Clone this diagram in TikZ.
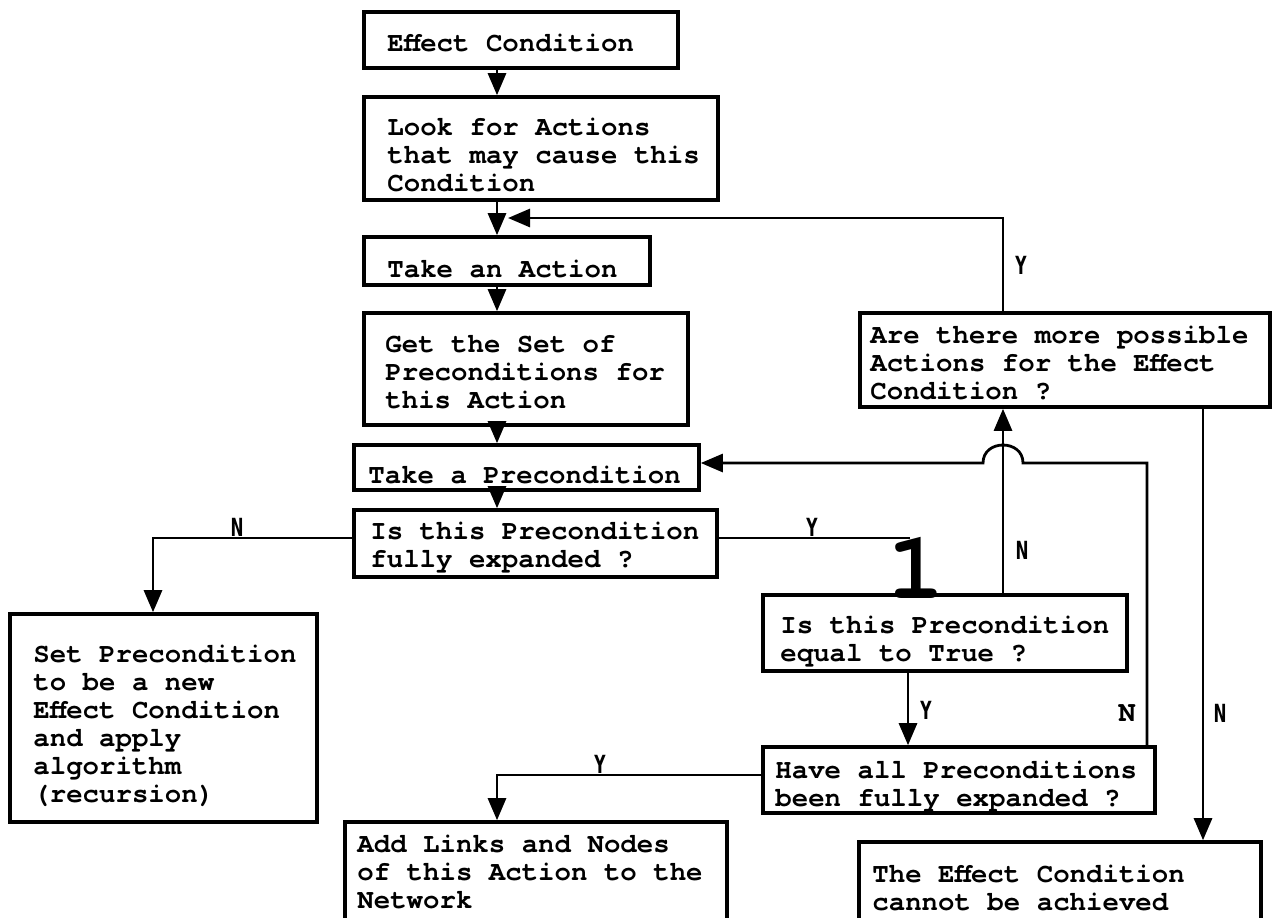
\documentclass[tikz,border=0pt]{standalone}
\usepackage{fontspec}
\usepackage{graphicx}
\usetikzlibrary{arrows.meta,fit}
\newfontfamily\flowfont{texgyrecursor}[Extension=.otf,UprightFont=*-bold]
\newfontfamily\tagfont{DejaVu Sans}[UprightFont={* Bold}]
\newcommand\tagtext[1]{\scalebox{0.62}[1]{#1}}
\newcommand\boxlines[1]{\parbox[t]{330pt}{\raggedright #1}}
\tikzset{
  x=0.5pt, y=-0.5pt,
  box/.style={draw, line width=1.8pt, inner sep=0pt},
  txt/.style={anchor=base west, inner sep=0pt,
    font=\flowfont\fontsize{13.7pt}{14pt}\selectfont},
  tag/.style={inner sep=0pt, font=\tagfont\fontsize{12.5pt}{13pt}\selectfont},
  seriftag/.style={inner sep=0pt, font=\flowfont\fontsize{14.5pt}{14pt}\selectfont},
  arr/.style={line width=1.4pt, -{Triangle[length=11pt,width=9pt]}},
  wire/.style={line width=1.4pt},
}
\begin{document}
\begin{tikzpicture}
\useasboundingbox (0,0) rectangle (1273,917);
\fill[white] (0,0) rectangle (1273,917);

% boxes
\node[box, fit={(364,12) (678,68)}]    (b1)  {};
\node[box, fit={(364,97) (718,200)}]   (b2)  {};
\node[box, fit={(364,237) (650,285)}]  (b3)  {};
\node[box, fit={(364,313) (688,425)}]  (b4)  {};
\node[box, fit={(354,445) (699,490)}]  (b5)  {};
\node[box, fit={(354,510) (717,577)}]  (b6)  {};
\node[box, fit={(10,614) (317,822)}]   (b7)  {};
\node[box, fit={(763,595) (1127,671)}] (b8)  {};
\node[box, fit={(763,747) (1155,813)}] (b9)  {};
\node[box, fit={(345,822) (727,920)}]  (b10) {};
\node[box, fit={(859,842) (1261,920)}] (b11) {};
\node[box, fit={(860,313) (1270,407)}] (b12) {};

% box texts
\node[txt] (t1)  at (387,51)  {\boxlines{Effect Condition}};
\node[txt] (t2)  at (387,135) {\boxlines{Look for Actions\\that may cause this\\Condition}};
\node[txt] (t3)  at (387,277) {\boxlines{Take an Action}};
\node[txt] (t4)  at (385,352) {\boxlines{Get the Set of\\Preconditions for\\this Action}};
\node[txt] (t5)  at (368,483) {\boxlines{Take a Precondition}};
\node[txt] (t6)  at (370,539) {\boxlines{Is this Precondition\\fully expanded ?}};
\node[txt] (t7)  at (33,662)  {\boxlines{Set Precondition\\to be a new\\Effect Condition\\and apply\\algorithm\\(recursion)}};
\node[txt] (t8)  at (780,633) {\boxlines{Is this Precondition\\equal to True ?}};
\node[txt] (t9)  at (775,778) {\boxlines{Have all Preconditions\\been fully expanded ?}};
\node[txt] (t10) at (357,852) {\boxlines{Add Links and Nodes\\of this Action to the\\Network}};
\node[txt] (t11) at (872,882) {\boxlines{The Effect Condition\\cannot be achieved}};
\node[txt] (t12) at (870,343) {\boxlines{Are there more possible\\Actions for the Effect\\Condition ?}};

% connector marker "1"
\node[anchor=base, inner sep=0pt, font=\flowfont\fontsize{48pt}{48pt}\selectfont] (one) at (916,598) {1};

% guide coordinates
\coordinate (cx)   at (497,0);
\coordinate (loop) at (508,218);
\coordinate (cy)   at (1003,0);
\coordinate (nl)   at (153,538);
\coordinate (yend) at (910,538);
\coordinate (tr)   at (908,0);
\coordinate (nb)   at (1147,463);
\coordinate (nr)   at (1203,0);
\coordinate (yl)   at (497,775);

% main spine
\draw[arr] (b1.south -| cx) -- (b2.north -| cx);
\draw[arr] (b2.south -| cx) -- (b3.north -| cx);
\draw[arr] (b3.south -| cx) -- (b4.north -| cx);
\draw[arr] (b4.south -| cx) -- (b5.north -| cx);
\draw[arr] (b5.south -| cx) -- (b6.north -| cx);

% more actions: back to "Take an Action"
\draw[arr] (b12.north -| cy) -- (cy |- loop) -- (loop);

% precondition not expanded: recursion
\draw[arr] (b6.west |- nl) -- (nl) -- (nl |- b7.north);

% precondition expanded: go to marker 1
\draw[wire] (b6.east |- yend) -- (yend);

% precondition not true: ask for more actions
\draw[arr] (b8.north -| cy) -- (b12.south -| cy);

% precondition true
\draw[arr] (b8.south -| tr) -- (b9.north -| tr);

% not all expanded: take next precondition (hops over the vertical line)
\draw[arr] (b9.north -| nb) -- (nb) -- (1023,463)
  .. controls (1023,439) and (983,439) .. (983,463) -- (b5.east |- nb);

% no more actions
\draw[arr] (b12.south -| nr) -- (b11.north -| nr);

% all expanded: add to network
\draw[arr] (b9.west |- yl) -- (yl) -- (yl |- b10.north);

% branch labels
\node[tag] (ly1) at (1021,265) {\tagtext{Y}};
\node[tag, anchor=south] (ln1) at (237,537) {\tagtext{N}};
\node[tag, anchor=south] (ly2) at (812,537) {\tagtext{Y}};
\node[tag] (ln2) at (1022,550) {\tagtext{N}};
\node[tag] (ly3) at (926,710) {\tagtext{Y}};
\node[seriftag] (ln3) at (1127,713) {N};
\node[tag] (ln4) at (1220,713) {\tagtext{N}};
\node[tag, anchor=south] (ly4) at (600,774) {\tagtext{Y}};
\end{tikzpicture}
\end{document}
